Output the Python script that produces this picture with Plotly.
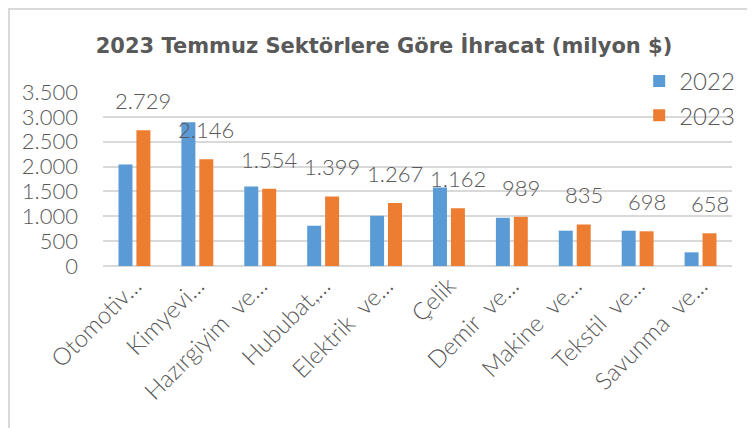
import plotly.graph_objects as go

NB = "\u00a0"
categories = ["Otomotiv...", "Kimyevi...", f"Hazırgiyim{NB} ve...", "Hububat,...",
              f"Elektrik{NB} ve...", "Çelik", f"Demir{NB} ve...", f"Makine{NB} ve...",
              f"Tekstil{NB} ve...", f"Savunma{NB} ve..."]
values_2022 = [2040, 2890, 1600, 810, 1010, 1580, 970, 710, 710, 275]
values_2023 = [2729, 2146, 1554, 1399, 1267, 1162, 989, 835, 698, 658]
y_ticks = [0, 500, 1000, 1500, 2000, 2500, 3000, 3500]

BLUE = "#5B9BD5"
ORANGE = "#ED7D31"
TXT = "#595959"
THIN = "Lato"

fig = go.Figure()
fig.add_trace(go.Bar(name="2022", x=categories, y=values_2022, marker_color=BLUE,
                     marker_line_width=0))
fig.add_trace(go.Bar(name="2023", x=categories, y=values_2023, marker_color=ORANGE,
                     marker_line_width=0))

def fmt(v):
    return f"{v:,}".replace(",", ".")

for c, v in zip(categories, values_2023):
    fig.add_annotation(x=c, y=v, text=fmt(v), showarrow=False, xshift=9, yshift=14,
                       yanchor="bottom", xanchor="center",
                       font=dict(family=THIN, size=22, color=TXT, weight=300))

fig.update_layout(
    width=755, height=428,
    margin=dict(l=95, r=31, t=84, b=170, autoexpand=False),
    paper_bgcolor="white", plot_bgcolor="white",
    separators=",.",
    barmode="group", bargap=0.43, bargroupgap=0.22,
    title=dict(text="<b>2023 Temmuz Sektörlere Göre İhracat (milyon $)</b>",
               x=0.498, xanchor="center", y=0.912, yanchor="middle",
               font=dict(family="DejaVu Sans", size=21, color=TXT)),
    legend=dict(x=1.013, xanchor="right", y=1.19, yanchor="top",
                font=dict(family=THIN, size=24, color=TXT, weight=300),
                itemwidth=30, bgcolor="rgba(0,0,0,0)"),
    showlegend=True,
    font=dict(family=THIN, color=TXT),
)
fig.update_yaxes(range=[0, 3500], tickvals=y_ticks, tickformat=",d",
                 showgrid=True, gridcolor="#D9D9D9", gridwidth=2,
                 zeroline=True, zerolinecolor="#D9D9D9", zerolinewidth=2,
                 showline=False, ticks="", ticklabelstandoff=24,
                 tickfont=dict(family=THIN, size=22, color=TXT, weight=300))
fig.update_xaxes(tickangle=-45, showgrid=False, showline=False, ticks="",
                 tickfont=dict(family=THIN, size=24, color=TXT, weight=300))

fig.add_shape(type="rect", xref="paper", yref="paper",
              x0=-0.1494, x1=1.2, y0=-1.2, y1=1.477,
              line=dict(color="#D9D9D9", width=2), fillcolor="rgba(0,0,0,0)", layer="below")

fig.write_html("out.html")
